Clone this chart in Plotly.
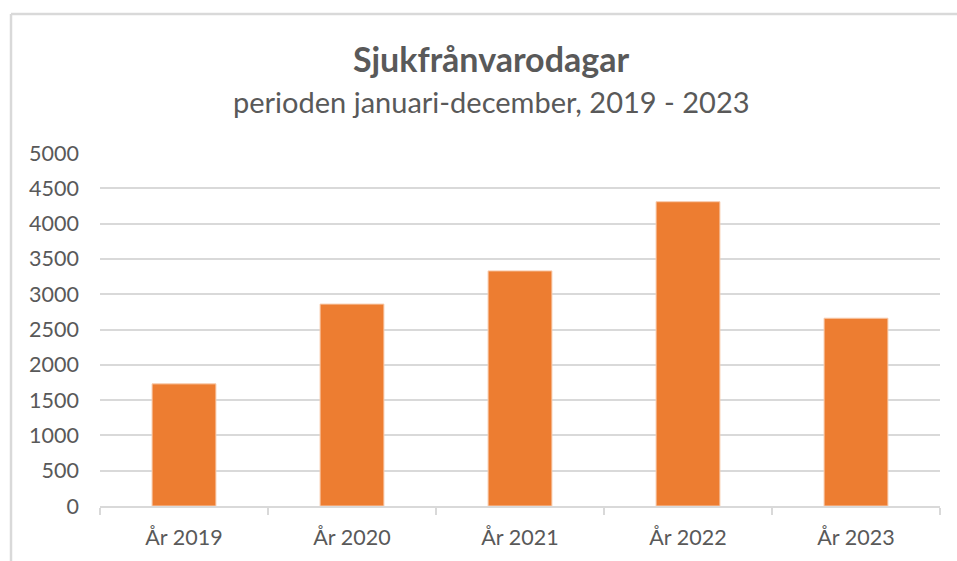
import plotly.graph_objects as go

categories = ["År 2019", "År 2020", "År 2021", "År 2022", "År 2023"]
values = [1730, 2860, 3330, 4310, 2660]
y_ticks = [0, 500, 1000, 1500, 2000, 2500, 3000, 3500, 4000, 4500, 5000]

W, H = 957, 561
L, R, T, B = 100, 17, 153, 55
pw, ph = W - L - R, H - T - B

text_color = "#595959"
grid_color = "#D9D9D9"
font_family = "Lato, 'Open Sans', sans-serif"

fig = go.Figure()
fig.add_trace(go.Bar(
    x=categories, y=values,
    marker=dict(color="#ED7D31", line=dict(color="#F8CBAD", width=1)),
    width=0.38,
))

fig.update_layout(
    width=W, height=H,
    margin=dict(l=L, r=R, t=T, b=B),
    paper_bgcolor="white", plot_bgcolor="white",
    showlegend=False,
    font=dict(family=font_family, color=text_color, size=21),
    title=dict(
        text="<b>Sjukfrånvarodagar</b>",
        x=491 / W, xanchor="center", xref="container",
        y=1 - 60 / H, yanchor="middle", yref="container",
        font=dict(size=34, color=text_color, family=font_family),
    ),
    xaxis=dict(
        type="category",
        showgrid=False,
        showline=True, linecolor=grid_color, linewidth=1.5,
        ticks="outside", tickson="boundaries", ticklen=7,
        tickcolor=grid_color, tickwidth=1.5,
        ticklabelstandoff=11,
        tickfont=dict(size=21.5, color=text_color),
        range=[-0.5, 4.5],
        fixedrange=True,
    ),
    yaxis=dict(
        range=[0, 5000],
        tickvals=y_ticks,
        showgrid=True, gridcolor=grid_color, gridwidth=1.5,
        zeroline=False, showline=False,
        ticks="", ticklabelstandoff=20,
        tickfont=dict(size=21.5, color=text_color),
        fixedrange=True,
    ),
    annotations=[dict(
        text="perioden januari-december, 2019 - 2023",
        xref="paper", yref="paper",
        x=(491 - L) / pw, y=(H - B - 101) / ph,
        xanchor="center", yanchor="middle", showarrow=False,
        font=dict(size=29, color=text_color, family=font_family),
    )],
    shapes=[
        dict(type="line", xref="paper", yref="paper",
             x0=(11 - L) / pw, x1=(W + 5 - L) / pw,
             y0=(H - B - 14) / ph, y1=(H - B - 14) / ph,
             line=dict(color=grid_color, width=2.5)),
        dict(type="line", xref="paper", yref="paper",
             x0=(11 - L) / pw, x1=(11 - L) / pw,
             y0=(H - B - 14) / ph, y1=(H - B - H - 5) / ph,
             line=dict(color=grid_color, width=2.5)),
    ],
)

fig.write_html("out.html", config={"displayModeBar": False},
               post_script="document.body.style.margin='0';")
